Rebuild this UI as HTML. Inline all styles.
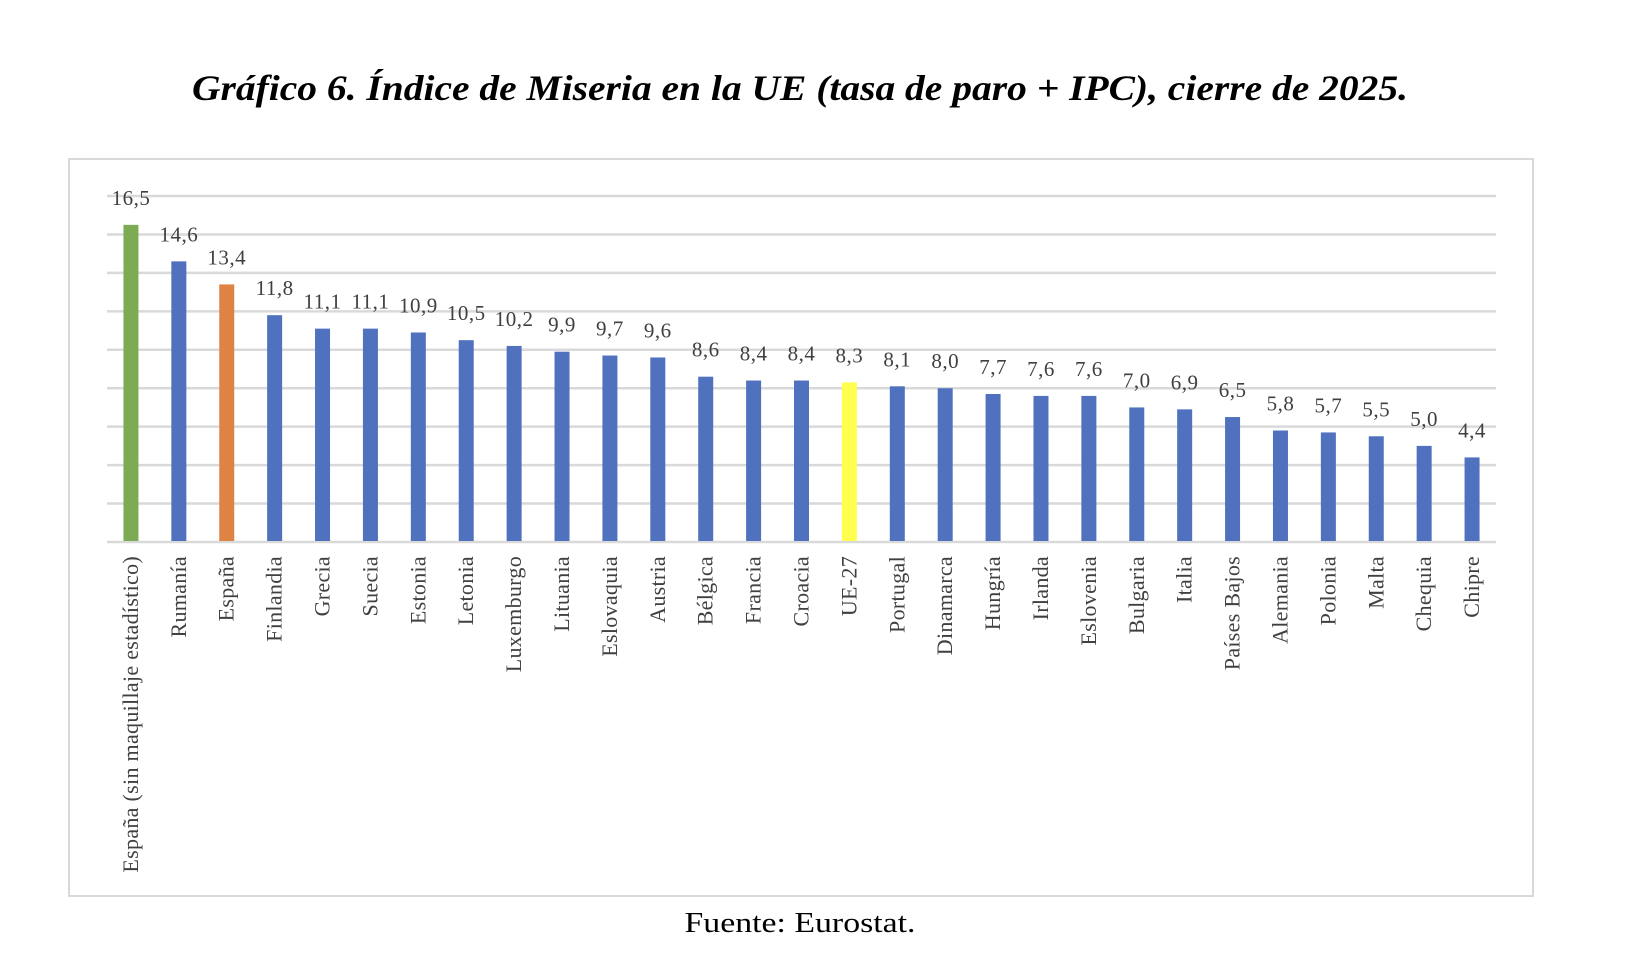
<!DOCTYPE html>
<html><head><meta charset="utf-8"><style>
html,body{margin:0;padding:0;background:#fff;width:1640px;height:976px;overflow:hidden}
svg{display:block;font-family:"Liberation Serif",serif}
</style></head><body>
<svg id="chart" width="1640" height="976" viewBox="0 0 1640 976">
<text x="800" y="100" text-anchor="middle" font-size="36" font-weight="bold" font-style="italic" textLength="1216" lengthAdjust="spacingAndGlyphs" fill="#000">Gráfico 6. Índice de Miseria en la UE (tasa de paro + IPC), cierre de 2025.</text>
<rect x="69" y="159" width="1464" height="737" fill="none" stroke="#d9d9d9" stroke-width="2"/>
<g id="grid"></g>
<g id="bars"></g>
<g id="vals"></g>
<g id="cats"></g>
<text x="800" y="932" text-anchor="middle" font-size="28" textLength="231" lengthAdjust="spacingAndGlyphs" fill="#000">Fuente: Eurostat.</text>
</svg>
<script>
const categories = ["España (sin maquillaje estadístico)","Rumanía","España","Finlandia","Grecia","Suecia","Estonia","Letonia","Luxemburgo","Lituania","Eslovaquia","Austria","Bélgica","Francia","Croacia","UE-27","Portugal","Dinamarca","Hungría","Irlanda","Eslovenia","Bulgaria","Italia","Países Bajos","Alemania","Polonia","Malta","Chequia","Chipre"];
const values = [16.5,14.6,13.4,11.8,11.1,11.1,10.9,10.5,10.2,9.9,9.7,9.6,8.6,8.4,8.4,8.3,8.1,8.0,7.7,7.6,7.6,7.0,6.9,6.5,5.8,5.7,5.5,5.0,4.4];
const gridTicks = [0,2,4,6,8,10,12,14,16,18];
const colors = {"España (sin maquillaje estadístico)":"#7DAB54","España":"#DF8344","UE-27":"#FFFF4F"};
const NS="http://www.w3.org/2000/svg";
const x0=107,x1=1496,yBase=542,yTop=196,vMax=18;
const band=(x1-x0)/categories.length;
const y=v=>yBase-(v/vMax)*(yBase-yTop);
const xc=i=>x0+band*(i+0.5);
function mk(t,a){const e=document.createElementNS(NS,t);for(const k in a)e.setAttribute(k,a[k]);return e;}
const g=document.getElementById('grid');
gridTicks.forEach(t=>{
  const l=mk('line',{x1:x0,x2:x1,y1:y(t),y2:y(t),stroke:'#d9d9d9','stroke-width':2.5});
  
  
  g.appendChild(l);
});
const bg=document.getElementById('bars'),vg=document.getElementById('vals'),cg=document.getElementById('cats');
categories.forEach((c,i)=>{
  const v=values[i],w=15;
  const r=mk('rect',{x:xc(i)-w/2,y:y(v),width:w,height:yBase-y(v)-1,fill:colors[c]||'#4F71BE'});
  
  
  bg.appendChild(r);
  const t=mk('text',{x:xc(i),y:y(v)-20,'text-anchor':'middle','font-size':21,'letter-spacing':0.5,fill:'#404040'});
  t.textContent=v.toFixed(1).replace('.',',');
  
  
  vg.appendChild(t);
  const ct=mk('text',{x:0,y:0,'text-anchor':'end','font-size':22,'letter-spacing':0.3,fill:'#404040',transform:`translate(${xc(i)+7},556) rotate(-90)`});
  ct.textContent=c;
  
  
  cg.appendChild(ct);
});
</script>
</body></html>
